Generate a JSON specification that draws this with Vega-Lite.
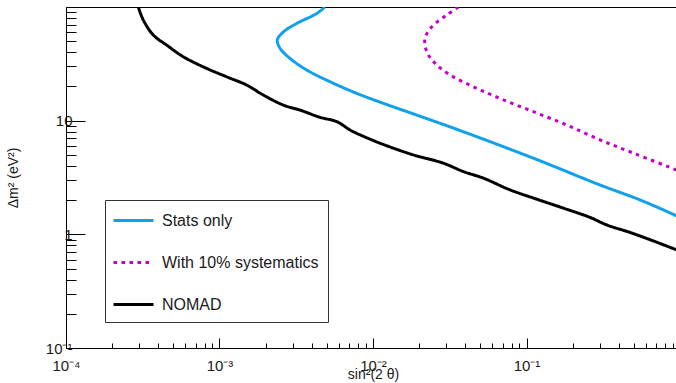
{
  "$schema": "https://vega.github.io/schema/vega-lite/v6.json",
  "width": 614,
  "height": 341,
  "autosize": {"type": "none"},
  "padding": {"left": 66, "top": 7, "right": 0, "bottom": 35},
  "background": "white",
  "view": {"stroke": "black", "strokeWidth": 1},
  "config": {
    "font": "Liberation Sans",
    "axis": {
      "grid": false,
      "domainColor": "black",
      "domainWidth": 1,
      "tickColor": "black",
      "tickWidth": 1,
      "labelFont": "Liberation Sans",
      "labelFontSize": 15,
      "labelColor": "#1a1a1a",
      "labelOverlap": false,
      "labelFlush": false,
      "titleFont": "Liberation Sans",
      "titleFontSize": 14,
      "titleFontWeight": "normal",
      "titleColor": "#1a1a1a"
    },
    "legend": {
      "orient": "none",
      "legendX": 39,
      "legendY": 193,
      "strokeColor": "#333",
      "fillColor": "white",
      "padding": 9,
      "symbolType": "M-1.2,0H2.8",
      "symbolSize": 400,
      "symbolStrokeWidth": 2.5,
      "labelFont": "Liberation Sans",
      "labelFontSize": 16,
      "labelColor": "#1a1a1a",
      "labelOffset": 25,
      "rowPadding": 22
    }
  },
  "data": {
    "values": [
      {"series": "NOMAD", "order": 1, "x": 0.000296, "y": 100},
      {"series": "NOMAD", "order": 2, "x": 0.000319, "y": 76.6},
      {"series": "NOMAD", "order": 3, "x": 0.000371, "y": 56.5},
      {"series": "NOMAD", "order": 4, "x": 0.000453, "y": 46.2},
      {"series": "NOMAD", "order": 5, "x": 0.000581, "y": 36.5},
      {"series": "NOMAD", "order": 6, "x": 0.000826, "y": 28.8},
      {"series": "NOMAD", "order": 7, "x": 0.001114, "y": 24.3},
      {"series": "NOMAD", "order": 8, "x": 0.0015, "y": 20.6},
      {"series": "NOMAD", "order": 9, "x": 0.00193, "y": 16.8},
      {"series": "NOMAD", "order": 10, "x": 0.00261, "y": 13.7},
      {"series": "NOMAD", "order": 11, "x": 0.00334, "y": 12.4},
      {"series": "NOMAD", "order": 12, "x": 0.00452, "y": 10.7},
      {"series": "NOMAD", "order": 13, "x": 0.00581, "y": 9.8},
      {"series": "NOMAD", "order": 14, "x": 0.00708, "y": 8.28},
      {"series": "NOMAD", "order": 15, "x": 0.00783, "y": 7.74},
      {"series": "NOMAD", "order": 16, "x": 0.0111, "y": 6.34},
      {"series": "NOMAD", "order": 17, "x": 0.0183, "y": 5.0},
      {"series": "NOMAD", "order": 18, "x": 0.0287, "y": 4.23},
      {"series": "NOMAD", "order": 19, "x": 0.0387, "y": 3.57},
      {"series": "NOMAD", "order": 20, "x": 0.0524, "y": 3.12},
      {"series": "NOMAD", "order": 21, "x": 0.0782, "y": 2.46},
      {"series": "NOMAD", "order": 22, "x": 0.1164, "y": 2.04},
      {"series": "NOMAD", "order": 23, "x": 0.174, "y": 1.7},
      {"series": "NOMAD", "order": 24, "x": 0.259, "y": 1.41},
      {"series": "NOMAD", "order": 25, "x": 0.333, "y": 1.21},
      {"series": "NOMAD", "order": 26, "x": 0.472, "y": 1.04},
      {"series": "NOMAD", "order": 27, "x": 0.638, "y": 0.897},
      {"series": "NOMAD", "order": 28, "x": 0.942, "y": 0.733},
      {"series": "NOMAD", "order": 29, "x": 1.0, "y": 0.71},
      {"series": "Stats only", "order": 1, "x": 0.00486, "y": 100},
      {"series": "Stats only", "order": 2, "x": 0.0043, "y": 87.7},
      {"series": "Stats only", "order": 3, "x": 0.00318, "y": 71.6},
      {"series": "Stats only", "order": 4, "x": 0.00261, "y": 60.4},
      {"series": "Stats only", "order": 5, "x": 0.00238, "y": 51.2},
      {"series": "Stats only", "order": 6, "x": 0.00248, "y": 43.3},
      {"series": "Stats only", "order": 7, "x": 0.00288, "y": 35.3},
      {"series": "Stats only", "order": 8, "x": 0.0037, "y": 27.9},
      {"series": "Stats only", "order": 9, "x": 0.00525, "y": 22.0},
      {"series": "Stats only", "order": 10, "x": 0.00783, "y": 17.4},
      {"series": "Stats only", "order": 11, "x": 0.0117, "y": 14.2},
      {"series": "Stats only", "order": 12, "x": 0.0193, "y": 11.2},
      {"series": "Stats only", "order": 13, "x": 0.0351, "y": 8.4},
      {"series": "Stats only", "order": 14, "x": 0.1107, "y": 4.68},
      {"series": "Stats only", "order": 15, "x": 0.301, "y": 2.72},
      {"series": "Stats only", "order": 16, "x": 0.548, "y": 2.01},
      {"series": "Stats only", "order": 17, "x": 0.942, "y": 1.46},
      {"series": "Stats only", "order": 18, "x": 1.0, "y": 1.4},
      {"series": "With 10% systematics", "order": 1, "x": 0.036, "y": 100},
      {"series": "With 10% systematics", "order": 2, "x": 0.0302, "y": 84.8},
      {"series": "With 10% systematics", "order": 3, "x": 0.0241, "y": 66.8},
      {"series": "With 10% systematics", "order": 4, "x": 0.0218, "y": 52.8},
      {"series": "With 10% systematics", "order": 5, "x": 0.0224, "y": 40.4},
      {"series": "With 10% systematics", "order": 6, "x": 0.0254, "y": 31.9},
      {"series": "With 10% systematics", "order": 7, "x": 0.0318, "y": 25.2},
      {"series": "With 10% systematics", "order": 8, "x": 0.045, "y": 19.9},
      {"series": "With 10% systematics", "order": 9, "x": 0.0671, "y": 15.7},
      {"series": "With 10% systematics", "order": 10, "x": 0.1107, "y": 12.0},
      {"series": "With 10% systematics", "order": 11, "x": 0.183, "y": 9.16},
      {"series": "With 10% systematics", "order": 12, "x": 0.301, "y": 6.78},
      {"series": "With 10% systematics", "order": 13, "x": 0.497, "y": 5.18},
      {"series": "With 10% systematics", "order": 14, "x": 0.942, "y": 3.69},
      {"series": "With 10% systematics", "order": 15, "x": 1.0, "y": 3.55}
    ]
  },
  "mark": {"type": "line", "interpolate": "catmull-rom", "clip": true},
  "encoding": {
    "x": {
      "field": "x",
      "type": "quantitative",
      "scale": {"type": "log", "domain": [0.0001, 1], "nice": false},
      "axis": {
        "title": "sin²(2 θ)",
        "values": [0.0001, 0.0002, 0.0003, 0.0004, 0.0005, 0.0006, 0.0007, 0.0008, 0.0009, 0.001, 0.002, 0.003, 0.004, 0.005, 0.006, 0.007, 0.008, 0.009, 0.01, 0.02, 0.03, 0.04, 0.05, 0.06, 0.07, 0.08, 0.09, 0.1, 0.2, 0.3, 0.4, 0.5, 0.6, 0.7, 0.8, 0.9],
        "labelExpr": "abs(datum.value-0.0001)<1e-9 ? '10⁻⁴' : abs(datum.value-0.001)<1e-9 ? '10⁻³' : abs(datum.value-0.01)<1e-9 ? '10⁻²' : abs(datum.value-0.1)<1e-9 ? '10⁻¹' : ''",
        "tickSize": {"condition": {"test": "abs(log(datum.value)/LN10 - round(log(datum.value)/LN10)) < 1e-6", "value": -10}, "value": -5},
        "labelPadding": 20,
        "titlePadding": -11
      }
    },
    "y": {
      "field": "y",
      "type": "quantitative",
      "scale": {"type": "log", "domain": [0.1, 100], "nice": false},
      "axis": {
        "title": "Δm² (eV²)",
        "values": [0.1, 0.2, 0.3, 0.4, 0.5, 0.6, 0.7, 0.8, 0.9, 1, 2, 3, 4, 5, 6, 7, 8, 9, 10, 20, 30, 40, 50, 60, 70, 80, 90],
        "labelExpr": "abs(datum.value-0.1)<1e-9 ? '10⁻¹' : abs(datum.value-1)<1e-9 ? '1' : abs(datum.value-10)<1e-9 ? '10' : ''",
        "tickSize": {"condition": {"test": "abs(log(datum.value)/LN10 - round(log(datum.value)/LN10)) < 1e-6", "value": -19}, "value": -10},
        "labelPadding": 13,
        "titlePadding": 25
      }
    },
    "order": {"field": "order", "type": "quantitative"},
    "color": {
      "field": "series",
      "type": "nominal",
      "scale": {"domain": ["Stats only", "With 10% systematics", "NOMAD"], "range": ["#10a0ee", "#c400c8", "#000000"]},
      "legend": {"title": null}
    },
    "strokeDash": {
      "field": "series",
      "type": "nominal",
      "scale": {"domain": ["Stats only", "With 10% systematics", "NOMAD"], "range": [[1, 0], [3.5, 4.5], [1, 0]]},
      "legend": {"title": null}
    },
    "strokeWidth": {
      "field": "series",
      "type": "nominal",
      "scale": {"domain": ["Stats only", "With 10% systematics", "NOMAD"], "range": [3, 3, 2]},
      "legend": {"title": null}
    }
  }
}
